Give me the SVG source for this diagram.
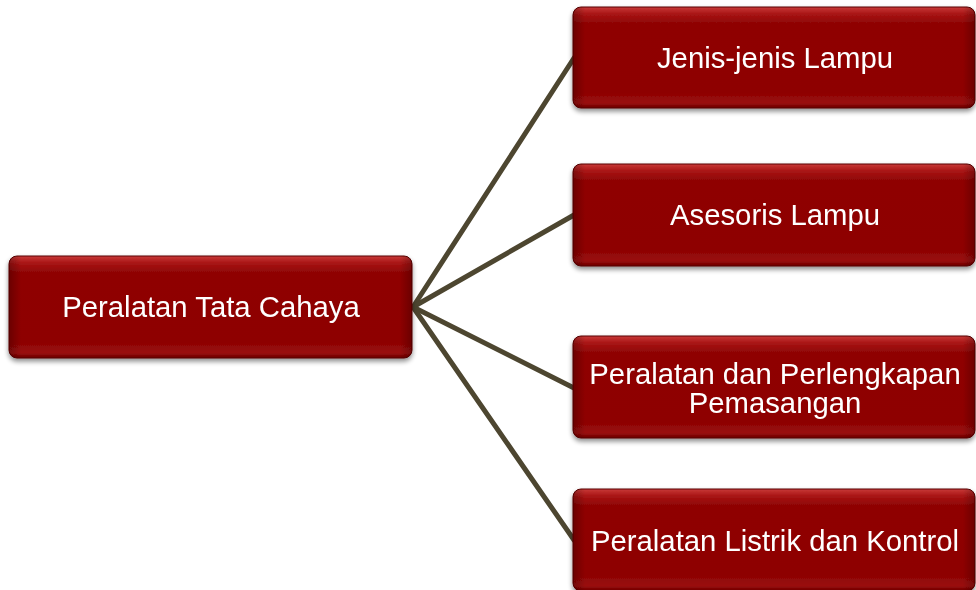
<svg xmlns="http://www.w3.org/2000/svg" width="976" height="590" viewBox="0 0 976 590">
<defs>
<linearGradient id="g" x1="0" y1="0" x2="0" y2="1">
<stop offset="0" stop-color="#c83a38"/>
<stop offset="0.07" stop-color="#a81414"/>
<stop offset="0.16" stop-color="#8f0505"/>
<stop offset="0.85" stop-color="#8e0505"/>
<stop offset="0.95" stop-color="#9a0a0a"/>
<stop offset="1" stop-color="#6a0202"/>
</linearGradient>
<linearGradient id="gs" x1="0" y1="0" x2="1" y2="0">
<stop offset="0" stop-color="#000" stop-opacity="0.25"/>
<stop offset="0.03" stop-color="#000" stop-opacity="0"/>
<stop offset="0.97" stop-color="#000" stop-opacity="0"/>
<stop offset="1" stop-color="#000" stop-opacity="0.25"/>
</linearGradient>
<filter id="sh" x="-5%" y="-10%" width="110%" height="130%">
<feGaussianBlur in="SourceAlpha" stdDeviation="2.5"/>
<feOffset dx="0" dy="3" result="b"/>
<feComponentTransfer><feFuncA type="linear" slope="0.45"/></feComponentTransfer>
<feMerge><feMergeNode/><feMergeNode in="SourceGraphic"/></feMerge>
</filter>
</defs>
<style>
.box{fill:url(#g);stroke:#5a0000;stroke-width:1}
.edge{fill:url(#gs)}
.t{font-family:"Liberation Sans",Arial,sans-serif;font-size:29.3px;fill:#ffffff;text-anchor:middle}
.c{stroke:#4d4630;stroke-width:5;fill:none;stroke-linecap:round}
</style>
<g id="connectors">
<line class="c" x1="413" y1="307" x2="574" y2="58"/>
<line class="c" x1="413" y1="307" x2="574" y2="215"/>
<line class="c" x1="413" y1="307" x2="574" y2="388"/>
<line class="c" x1="413" y1="307" x2="574" y2="540"/>
</g>
<g id="root" filter="url(#sh)">
<rect class="box" x="9" y="256" width="403" height="102" rx="8"/>
<rect class="edge" x="9" y="256" width="403" height="102" rx="8"/>
<text class="t" x="211" y="317">Peralatan Tata Cahaya</text>
</g>
<g id="n1" filter="url(#sh)">
<rect class="box" x="573" y="7" width="402" height="101" rx="8"/>
<rect class="edge" x="573" y="7" width="402" height="101" rx="8"/>
<text class="t" x="775" y="68">Jenis-jenis Lampu</text>
</g>
<g id="n2" filter="url(#sh)">
<rect class="box" x="573" y="164" width="402" height="102" rx="8"/>
<rect class="edge" x="573" y="164" width="402" height="102" rx="8"/>
<text class="t" x="775" y="225">Asesoris Lampu</text>
</g>
<g id="n3" filter="url(#sh)">
<rect class="box" x="573" y="336" width="402" height="102" rx="8"/>
<rect class="edge" x="573" y="336" width="402" height="102" rx="8"/>
<text class="t" x="775" y="384">Peralatan dan Perlengkapan</text>
<text class="t" x="775" y="413">Pemasangan</text>
</g>
<g id="n4" filter="url(#sh)">
<rect class="box" x="573" y="489" width="402" height="102" rx="8"/>
<rect class="edge" x="573" y="489" width="402" height="102" rx="8"/>
<text class="t" x="775" y="551">Peralatan Listrik dan Kontrol</text>
</g>
</svg>
